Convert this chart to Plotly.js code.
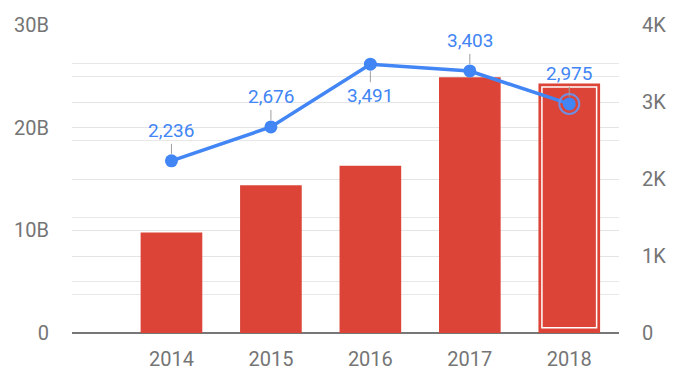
<!DOCTYPE html>
<html>
<head>
<meta charset="utf-8">
<script src="https://cdn.plot.ly/plotly-3.0.1.min.js"></script>
<style>
html,body{margin:0;padding:0;background:#fff;}
#chart{width:676px;height:379px;}
#err{position:absolute;left:80px;top:5px;font:12px monospace;color:#000;}
</style>
</head>
<body>
<div id="chart"></div>
<div id="err"></div>
<script>
window.onerror = function(m){ document.getElementById('err').textContent += ' ERR:' + m; };
const years = ['2014', '2015', '2016', '2017', '2018'];
const barValues = [9.8e9, 14.4e9, 16.3e9, 24.9e9, 24.3e9];
const lineValues = [2236, 2676, 3491, 3403, 2975];
const labelBelow = [false, false, true, false, false];
const selectedIndex = 4;
const leftTickVals = [0, 10e9, 20e9, 30e9];
const leftTickText = ['0', '10B', '20B', '30B'];
const rightTickVals = [0, 1000, 2000, 3000, 4000];
const rightTickText = ['0', '1K', '2K', '3K', '4K'];

const RED = '#DB4437';
const BLUE = '#4285F4';
const GRAY = '#757575';
const FONT = 'Roboto, sans-serif';

function fmt(v) { return String(v).replace(/\B(?=(\d{3})+(?!\d))/g, ','); }

const traces = [
  {
    type: 'bar', x: years, y: barValues, yaxis: 'y',
    marker: {color: RED}, width: 0.62, hoverinfo: 'skip'
  },
  {
    type: 'bar', x: [years[selectedIndex]],
    y: [barValues[selectedIndex] - 0.85e9], base: [0.5e9], yaxis: 'y',
    marker: {color: 'rgba(0,0,0,0)', line: {color: '#ffffff', width: 1.5}},
    width: 0.55, hoverinfo: 'skip'
  },
  {
    type: 'scatter', mode: 'lines+markers', x: years, y: lineValues, yaxis: 'y2',
    line: {color: BLUE, width: 3.5}, marker: {color: BLUE, size: 13}, hoverinfo: 'skip'
  },
  {
    type: 'scatter', mode: 'markers', x: [years[selectedIndex]], y: [lineValues[selectedIndex]], yaxis: 'y2',
    marker: {symbol: 'circle-open', size: 20, color: 'rgba(100,150,245,0.9)', line: {width: 2}}, hoverinfo: 'skip'
  }
];

const annotations = years.map((yr, i) => ({
  x: i, y: lineValues[i], xref: 'x', yref: 'y2',
  text: fmt(lineValues[i]),
  showarrow: true, arrowhead: 0, arrowwidth: 1, arrowcolor: '#9e9e9e',
  ax: 0, ay: labelBelow[i] ? 31 : -30, standoff: 7,
  font: {family: FONT, size: 19, color: BLUE}
}));

const layout = {
  width: 676, height: 379,
  margin: {l: 72, r: 57, t: 25, b: 46},
  paper_bgcolor: '#fff', plot_bgcolor: '#fff',
  showlegend: false, barmode: 'overlay',
  font: {family: FONT, size: 19, color: GRAY},
  xaxis: {
    type: 'category', range: [-1, 4.5], showgrid: false, zeroline: false,
    showline: false, ticks: '', tickfont: {size: 20, color: GRAY}, ticklabelstandoff: 12
  },
  yaxis: {
    range: [0, 30e9], tickvals: leftTickVals, ticktext: leftTickText,
    showgrid: true, gridcolor: '#e4e4e4', gridwidth: 1,
    minor: {dtick: 5e9, showgrid: true, gridcolor: '#e8e8e8', gridwidth: 1, ticks: ''},
    zeroline: true, zerolinecolor: '#777777', zerolinewidth: 1.5,
    ticks: '', tickfont: {size: 20, color: GRAY}, ticklabelstandoff: 22, fixedrange: true
  },
  yaxis2: {
    range: [0, 4000], overlaying: 'y', side: 'right',
    tickvals: rightTickVals, ticktext: rightTickText,
    showgrid: true, gridcolor: '#e4e4e4', gridwidth: 1,
    minor: {dtick: 500, showgrid: true, gridcolor: '#e8e8e8', gridwidth: 1, ticks: ''},
    zeroline: false, ticks: '', tickfont: {size: 20, color: GRAY}, ticklabelstandoff: 22, fixedrange: true
  },
  annotations: annotations
};

Plotly.newPlot('chart', traces, layout, {staticPlot: true, displayModeBar: false})
  .catch(function(e){ document.getElementById('err').textContent += ' PERR:' + e; });
</script>
</body>
</html>
